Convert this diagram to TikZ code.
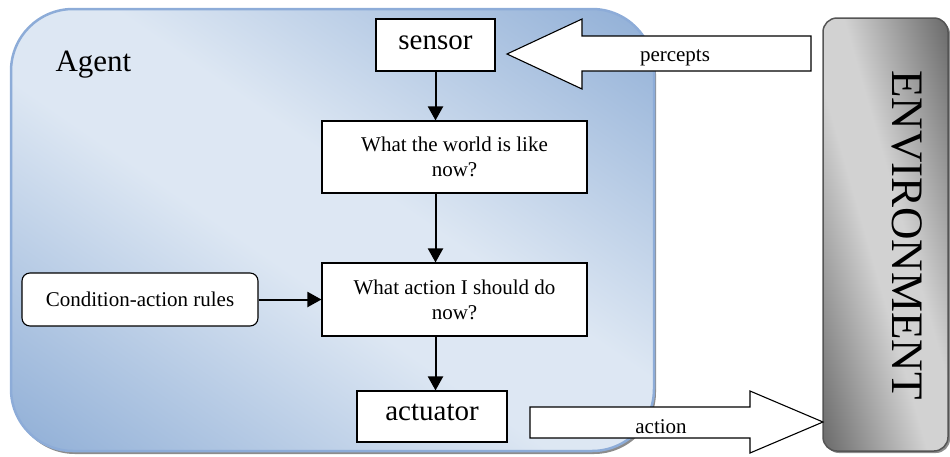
\documentclass[tikz,border=0pt]{standalone}
\usepackage{fontspec}
\setmainfont{Liberation Serif}
\usetikzlibrary{arrows.meta,positioning}

\definecolor{agentlight}{RGB}{221,231,243}
\definecolor{agentdark}{RGB}{143,174,214}
\definecolor{agentedge}{RGB}{141,172,216}
\definecolor{envlight}{RGB}{210,210,210}
\definecolor{envdark}{RGB}{105,105,105}
\definecolor{envedge}{RGB}{85,85,85}

\pgfdeclarehorizontalshading{agentshade}{100bp}{color(0bp)=(agentdark); color(25bp)=(agentdark); color(46bp)=(agentlight); color(54bp)=(agentlight); color(75bp)=(agentdark); color(100bp)=(agentdark)}
\pgfdeclarehorizontalshading{envshade}{100bp}{color(0bp)=(envdark); color(25bp)=(envdark); color(46bp)=(envlight); color(54bp)=(envlight); color(75bp)=(envdark); color(100bp)=(envdark)}

\begin{document}
\begin{tikzpicture}[x=1pt,y=-1pt,
    box/.style={draw, fill=white, line width=1.1pt, inner sep=2pt},
    bigbox/.style={box, font=\fontsize{29}{32}\selectfont, text height=0.85em, text depth=0.05em},
    smallbox/.style={box, font=\fontsize{21}{25}\selectfont, align=center},
    flow/.style={line width=2pt, -{Triangle[length=14pt,width=15pt]}},
    blockarrow/.style={draw, fill=white, line width=1.1pt, line join=miter},
    shadow/.style={fill=black!45}]

    \useasboundingbox (0,0) rectangle (950,456);

	% Shadows
    \fill[shadow, rounded corners=62pt] (13,12) rectangle (656,454);
    \fill[shadow, rounded corners=14pt] (825,20) rectangle (950,453);

	% Agent
    \begin{scope}
      \clip[rounded corners=62pt] (11,9) rectangle (654,451);
      \begin{scope}[transform canvas={rotate around={55.5:(332.5,230)}}]
        \shade[shading=agentshade] (-31.5,-270) rectangle (696.5,730);
      \end{scope}
    \end{scope}
    \draw[agentedge, line width=2.5pt, rounded corners=62pt] (11,9) rectangle (654,451);
    \node[anchor=base west, font=\fontsize{31}{34}\selectfont] (agent) at (52,71) {Agent};

	% Environment
    \begin{scope}
      \clip[rounded corners=14pt] (823,18) rectangle (948,451);
      \begin{scope}[transform canvas={rotate around={16:(885.5,234.5)}}]
        \shade[shading=envshade] (765.5,-65.5) rectangle (1005.5,534.5);
      \end{scope}
    \end{scope}
    \draw[envedge, line width=1.5pt, rounded corners=14pt] (823,18) rectangle (948,451);
    \node[rotate=-90, font=\fontsize{45}{50}\selectfont] (env) at (907,235) {ENVIRONMENT};

	% Percepts and action
    \draw[blockarrow] (811,36) -- (582,36) -- (582,19) -- (507,54) -- (582,89) -- (582,71) -- (811,71) -- cycle;
    \node[anchor=base, font=\fontsize{21}{25}\selectfont] (percepts) at (675,61) {percepts};
    \draw[blockarrow] (530,407) -- (750,407) -- (750,391) -- (823,422) -- (750,453) -- (750,438) -- (530,438) -- cycle;
    \node[anchor=base, font=\fontsize{21}{25}\selectfont] (act) at (661,433) {action};

	% Boxes
    \node[bigbox, minimum width=119pt, minimum height=52pt] (sensor) at (435.5,45) {sensor};
    \node[smallbox, minimum width=265pt, minimum height=72pt] (world) at (454.5,157) {What the world is like\\now?};
    \node[smallbox, minimum width=265pt, minimum height=73pt] (action) at (454.5,299.5) {What action I should do\\now?};
    \node[smallbox, rounded corners=8pt, minimum width=236pt, minimum height=53pt] (rules) at (140,299.5) {Condition-action rules};
    \node[bigbox, minimum width=150pt, minimum height=51pt] (actuator) at (432,416.5) {actuator};

	% Flow
    \draw[flow] (sensor.south) -- (world.north -| sensor);
    \draw[flow] (world.south -| sensor) -- (action.north -| sensor);
    \draw[flow] (action.south -| sensor) -- (actuator.north -| sensor);
    \draw[flow] (rules.east) -- (action.west);

\end{tikzpicture}
\end{document}
